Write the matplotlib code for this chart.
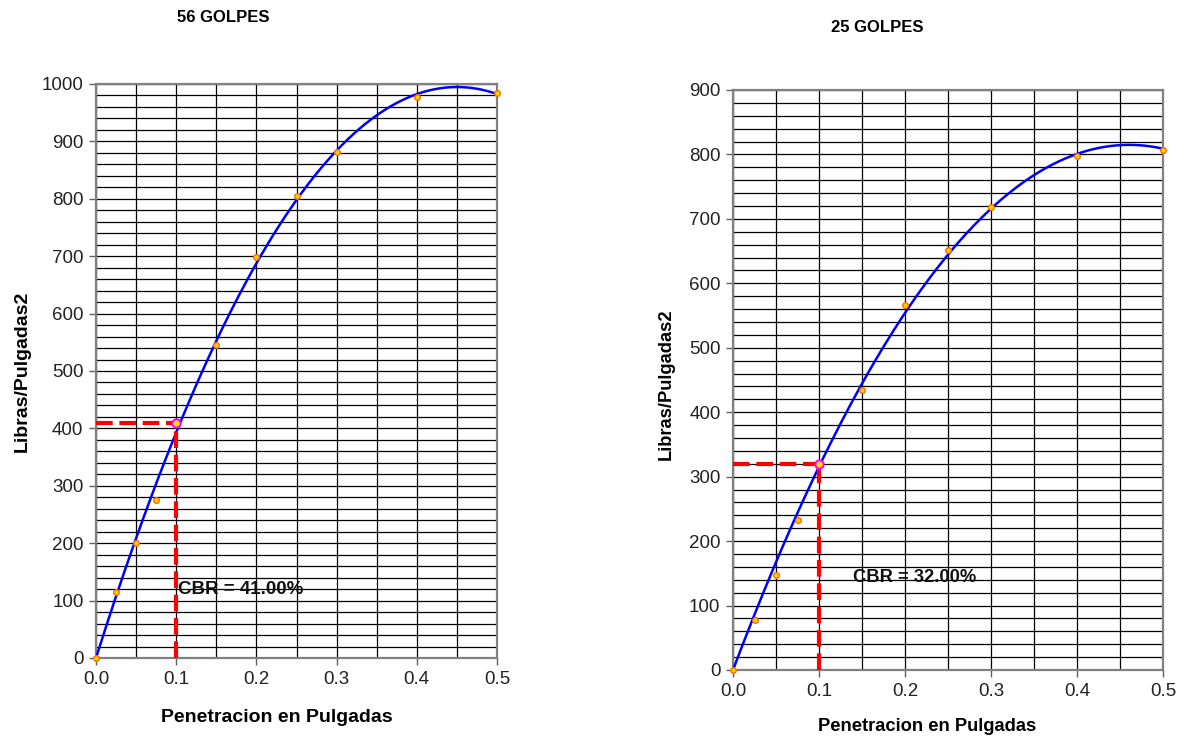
import numpy as np
import matplotlib
matplotlib.use("Agg")
import matplotlib.pyplot as plt
from matplotlib.ticker import MultipleLocator

plt.rcParams['font.family'] = ['Liberation Sans', 'DejaVu Sans']

# Penetration readings (inches) and loads (lb/in^2)
penetracion = [0.0, 0.025, 0.05, 0.075, 0.1, 0.15, 0.2, 0.25, 0.3, 0.4, 0.5]
carga_56 = [0, 115, 200, 275, 410, 545, 698, 805, 882, 977, 984]
carga_25 = [0, 78, 147, 233, 320, 434, 566, 652, 719, 798, 807]

titulos = ["56 GOLPES", "25 GOLPES"]
cbr_textos = ["CBR = 41.00%", "CBR = 32.00%"]
cbr_valores = [410, 320]
y_max = [1000, 900]
x_ticks = [0.0, 0.1, 0.2, 0.3, 0.4, 0.5]
x_tick_labels = ["0.0", "0.1", "0.2", "0.3", "0.4", "0.5"]

fig = plt.figure(figsize=(11.89, 7.42), dpi=100)
W, H = 1189, 742


def axes_px(x0, x1, ytop, ybot):
    return fig.add_axes([x0 / W, 1 - ybot / H, (x1 - x0) / W, (ybot - ytop) / H])


ax1 = axes_px(96, 497, 84, 658)
ax2 = axes_px(733, 1163, 90, 670)


def trend(x, y):
    # second-order polynomial trendline through the origin
    x = np.asarray(x, float)
    y = np.asarray(y, float)
    A = np.column_stack([x, x ** 2])
    coef, *_ = np.linalg.lstsq(A, y, rcond=None)
    xs = np.linspace(0, 0.5, 300)
    return xs, coef[0] * xs + coef[1] * xs ** 2


def draw(ax, y, ymax, cbr, cbr_txt, txt_pos, fs_lab, fs_cbr, xlab_xy, ylab_xy):
    ax.set_xlim(0, 0.5)
    ax.set_ylim(0, ymax)
    ax.xaxis.set_major_locator(MultipleLocator(0.1))
    ax.xaxis.set_minor_locator(MultipleLocator(0.05))
    ax.yaxis.set_major_locator(MultipleLocator(100))
    ax.yaxis.set_minor_locator(MultipleLocator(20))
    ax.set_xticks(x_ticks)
    ax.set_xticklabels(x_tick_labels)
    ax.grid(True, which='both', color='black', lw=0.9)
    ax.set_axisbelow(True)
    for s in ax.spines.values():
        s.set_color('#808080')
        s.set_linewidth(1.6)
    ax.tick_params(which='major', direction='out', length=5, width=1,
                   color='#606060', labelsize=13.5, labelcolor='#222222', pad=4)
    ax.tick_params(which='minor', length=0)

    xs, ys = trend(penetracion, y)
    ax.plot(xs, ys, color='#0000FF', lw=1.8, zorder=3)

    ax.plot([0, 0.1], [cbr, cbr], color='#FF0000', lw=3, dashes=(4, 1.6),
            zorder=4, clip_on=False)
    ax.plot([0.1, 0.1], [0, cbr], color='#FF0000', lw=3, dashes=(4, 1.6),
            zorder=4, clip_on=False)

    ax.plot(penetracion, y, ls='none', marker='o', ms=4, mfc='#FFD700',
            mec='#FF6A00', mew=1.0, zorder=5, clip_on=False)
    ax.plot([0.1], [cbr], ls='none', marker='o', ms=6, mfc='#FFE000',
            mec='#FF00FF', mew=1.4, zorder=6, clip_on=False)

    ax.text(txt_pos[0], txt_pos[1], cbr_txt, fontsize=fs_cbr, fontweight='bold',
            color='#111111', va='center', ha='left', zorder=7)

    ax.set_xlabel("Penetracion en Pulgadas", fontsize=fs_lab, fontweight='bold',
                  va='center')
    ax.set_ylabel("Libras/Pulgadas2", fontsize=fs_lab, fontweight='bold',
                  va='center')
    ax.xaxis.set_label_coords(*xlab_xy)
    ax.yaxis.set_label_coords(*ylab_xy)


draw(ax1, carga_56, y_max[0], cbr_valores[0], cbr_textos[0], (0.102, 120),
     14, 13.5, (0.45, -0.1045), (-0.1845, 0.50))
draw(ax2, carga_25, y_max[1], cbr_valores[1], cbr_textos[1], (0.139, 143),
     13.2, 13.2, (0.451, -0.098), (-0.156, 0.493))

fig.text(223 / W, 1 - 18 / H, titulos[0], fontsize=12, fontweight='bold',
         ha='center', va='center')
fig.text(877 / W, 1 - 27 / H, titulos[1], fontsize=12, fontweight='bold',
         ha='center', va='center')

fig.savefig("out.png", dpi=100, facecolor='white')
